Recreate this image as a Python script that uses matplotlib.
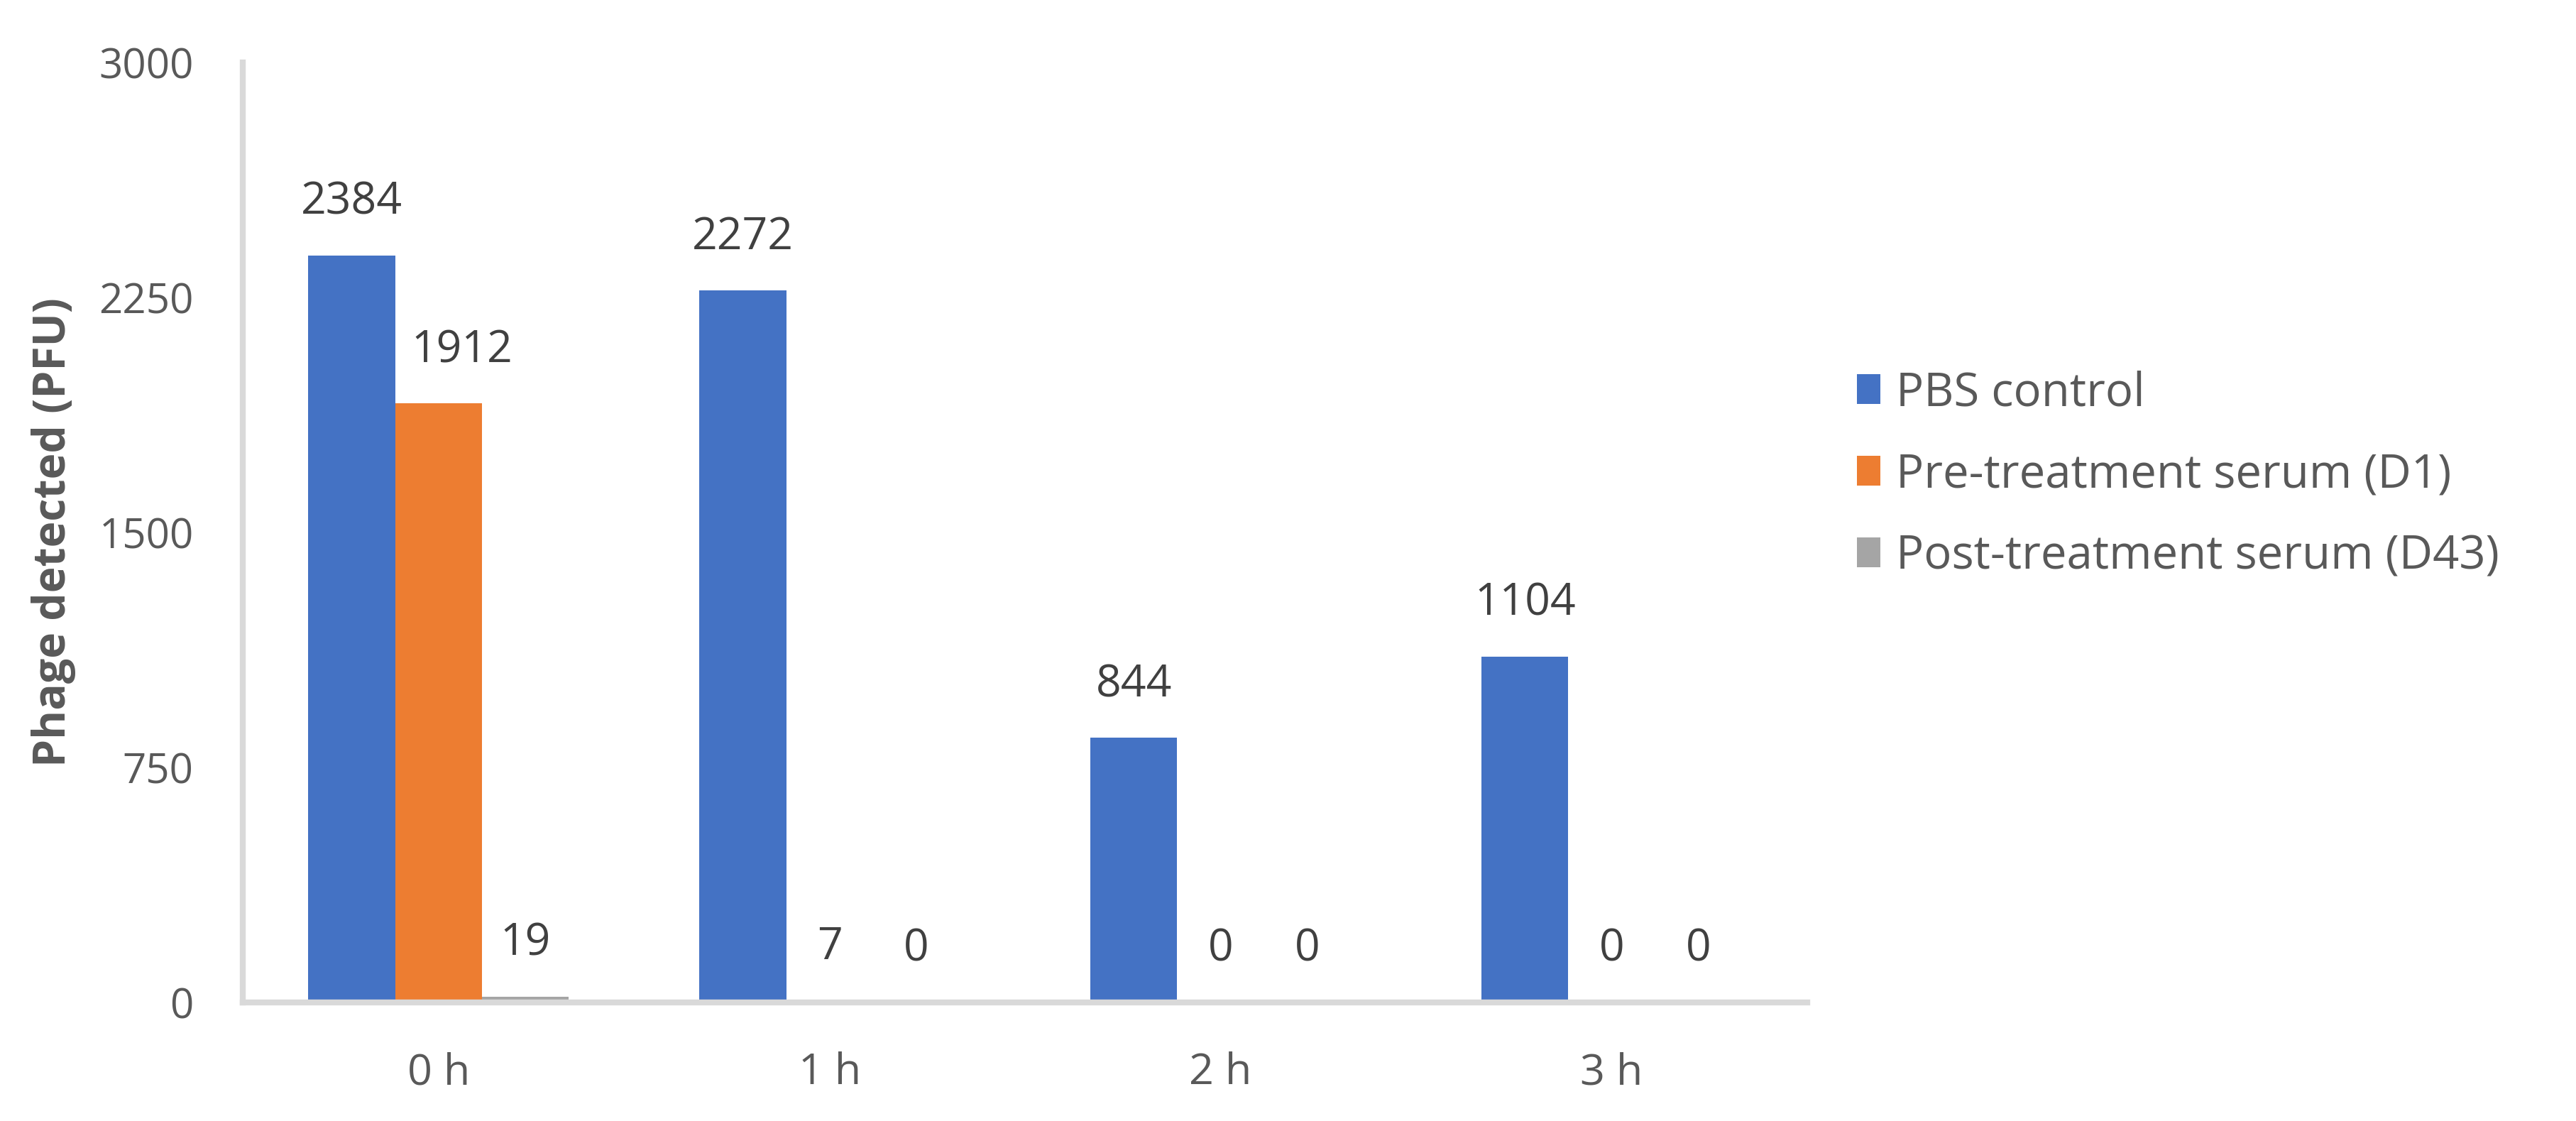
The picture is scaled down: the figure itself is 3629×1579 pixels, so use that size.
"""Phage neutralisation over time: PFU detected per serum condition."""
import numpy as np
import matplotlib.pyplot as plt

plt.rcParams['font.family'] = ['Open Sans', 'DejaVu Sans']

# data
timepoints = ['0 h', '1 h', '2 h', '3 h']
pbs_control = [2384, 2272, 844, 1104]
pre_serum = [1912, 7, 0, 0]
post_serum = [19, 0, 0, 0]
series_names = ['PBS control', 'Pre-treatment serum (D1)',
                'Post-treatment serum (D43)']
yticks = [0, 750, 1500, 2250, 3000]

COLORS = ['#4472C4', '#ED7D31', '#A5A5A5']
AXIS_GREY = '#D9D9D9'
TEXT_GREY = '#595959'
LABEL_DARK = '#404040'
BAR_W = 0.222
# (series, category) -> horizontal nudge in points, where the label was moved
# off the neighbouring bar
LABEL_NUDGE = {(1, 0): 24}

fig = plt.figure(figsize=(36.29, 15.79), dpi=100)
ax = fig.add_axes([0.0943, 0.1058, 0.6073, 0.8385])

x = np.arange(len(timepoints))
for i, (vals, name, col) in enumerate(zip([pbs_control, pre_serum, post_serum],
                                          series_names, COLORS)):
    pos = x + (i - 1) * BAR_W
    ax.bar(pos, vals, width=BAR_W, color=col, label=name, zorder=2)
    for j, (xp, v) in enumerate(zip(pos, vals)):
        ax.annotate(str(v), (xp, v), xytext=(LABEL_NUDGE.get((i, j), 0), 31),
                    textcoords='offset points', ha='center', va='bottom',
                    fontsize=45, color=LABEL_DARK)

ax.set_xlim(-0.5, 3.5)
ax.set_ylim(0, 3000)
ax.set_yticks(yticks)
ax.set_xticks(x)
ax.set_xticklabels(timepoints)
ax.tick_params(length=0, colors=TEXT_GREY)
ax.tick_params(axis='y', pad=50, labelsize=42)
ax.tick_params(axis='x', pad=50, labelsize=44)

for s in ['top', 'right']:
    ax.spines[s].set_visible(False)
for s in ['left', 'bottom']:
    ax.spines[s].set_color(AXIS_GREY)
    ax.spines[s].set_linewidth(6)

ax.set_ylabel('Phage detected (PFU)', fontsize=45, fontweight='bold',
              color=TEXT_GREY, labelpad=23)

leg = ax.legend(loc='center left', frameon=False,
                fontsize=47, handlelength=0.5, handleheight=0.6,
                handletextpad=0.35, labelspacing=0.75)
leg.set_bbox_to_anchor((1.005, 0.561), transform=ax.transAxes)
for t in leg.get_texts():
    t.set_color(TEXT_GREY)

fig.savefig('out.png', dpi=100)
